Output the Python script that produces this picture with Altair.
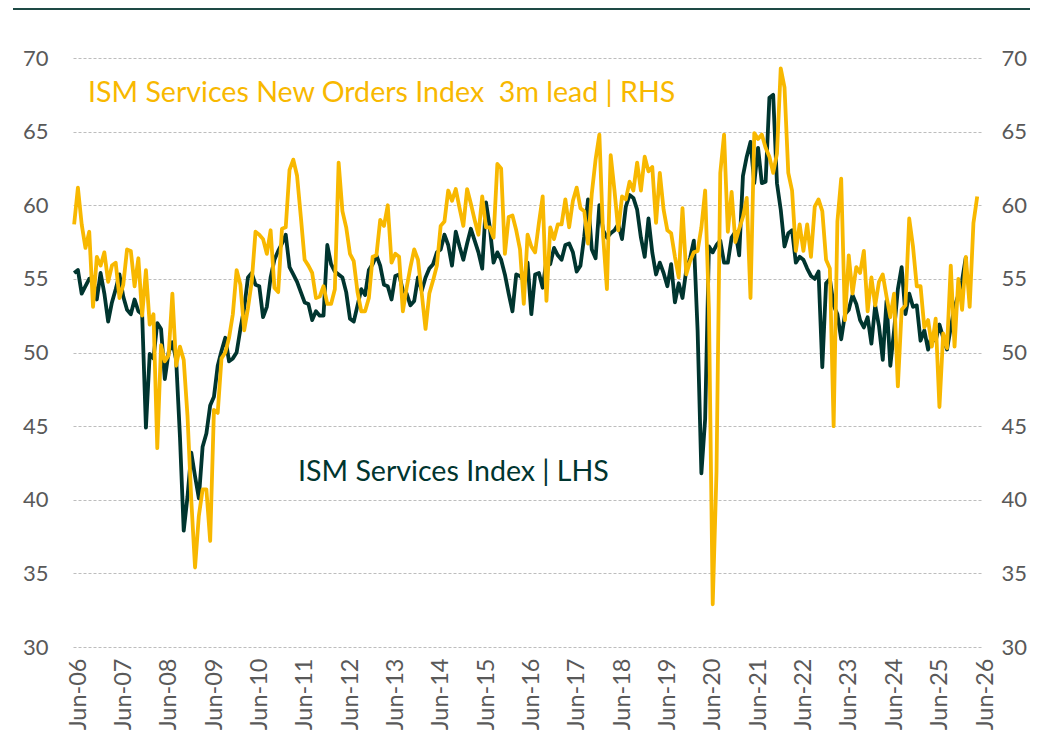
import altair as alt
import pandas as pd

# ISM Services Index (LHS), monthly from Jun-06
ism_services = [
    55.4, 55.6, 54.0, 54.5, 55.0, 55.1, 53.6, 55.4, 54.0, 52.1, 53.4, 54.3,
    55.3, 53.8, 52.9, 52.6, 53.6, 52.8, 52.6, 44.9, 49.9, 49.6, 52.0, 51.6,
    48.2, 50.0, 50.7, 49.5, 44.3, 37.9, 40.2, 43.2, 41.6, 40.1, 43.6, 44.5,
    46.4, 47.0, 49.1, 50.1, 51.0, 49.4, 49.6, 50.0, 51.6, 53.0, 55.1, 55.4,
    54.6, 54.5, 52.4, 53.1, 55.1, 56.3, 56.9, 57.4, 58.0, 55.8, 55.3, 54.8,
    54.1, 53.4, 53.3, 52.2, 52.8, 52.5, 52.5, 57.3, 56.0, 55.5, 55.3, 55.1,
    54.1, 52.3, 52.1, 53.2, 54.3, 53.9, 55.6, 56.0, 56.6, 55.9, 54.6, 54.5,
    53.6, 55.2, 55.3, 54.2, 54.0, 53.2, 53.5, 55.1, 54.2, 55.1, 55.7, 56.0,
    56.8, 57.0, 58.0, 57.3, 55.9, 58.2, 57.2, 56.3, 57.4, 58.4, 57.6, 56.8,
    55.7, 60.2, 58.5, 56.1, 56.8, 56.3, 55.3, 54.0, 52.8, 55.3, 55.2, 54.9,
    56.1, 52.6, 55.3, 55.4, 54.4, 56.3, 56.0, 57.1, 56.6, 56.3, 57.3, 57.4,
    56.8, 55.5, 55.9, 57.9, 60.4, 57.0, 56.4, 60.0, 58.3, 57.8, 58.1, 58.3,
    58.7, 57.7, 59.9, 60.7, 60.5, 59.7, 57.8, 56.5, 59.1, 56.8, 55.3, 56.1,
    55.4, 54.5, 56.0, 53.4, 54.7, 53.7, 55.6, 56.4, 57.6, 51.5, 41.8, 45.5,
    57.2, 56.8, 57.3, 57.6, 56.1, 56.1, 57.8, 58.2, 56.6, 62.0, 63.3, 64.3,
    61.5, 63.9, 61.5, 61.6, 67.3, 67.5, 61.5, 59.7, 57.2, 58.1, 58.3, 56.1,
    56.5, 56.3, 55.7, 55.2, 55.0, 55.5, 49.0, 54.7, 55.0, 53.2, 52.6, 50.9,
    52.6, 52.9, 53.9, 53.3, 52.2, 51.7, 52.4, 50.6, 53.2, 51.8, 49.5, 53.5,
    49.1, 51.5, 54.3, 55.8, 52.6, 54.0, 53.1, 53.2, 50.8, 51.5, 50.2, 51.2,
    50.8, 51.9, 51.0, 50.2, 51.7, 53.1, 53.9, 54.9, 56.5,
]

# ISM Services New Orders Index, 3m lead (RHS), monthly from Jun-06
new_orders_lead = [
    58.7, 61.2, 58.7, 57.1, 58.2, 53.1, 56.5, 55.9, 56.8, 54.8, 55.9, 56.1,
    53.7, 54.6, 57.0, 56.9, 54.5, 56.4, 52.5, 55.6, 51.9, 52.6, 43.5, 50.5,
    49.4, 49.8, 54.0, 49.1, 50.4, 49.5, 45.7, 40.0, 35.4, 38.9, 40.7, 40.7,
    37.2, 46.1, 45.9, 49.6, 50.0, 51.0, 52.6, 55.6, 54.6, 51.5, 53.0, 54.8,
    58.2, 58.0, 57.7, 56.7, 58.3, 54.4, 54.1, 58.4, 58.5, 62.4, 63.1, 62.0,
    59.2, 56.3, 55.9, 55.4, 53.7, 53.8, 54.5, 53.3, 53.3, 54.3, 62.9, 59.6,
    58.5, 56.7, 56.2, 54.1, 52.8, 52.8, 53.7, 56.5, 56.6, 59.0, 58.6, 60.0,
    56.1, 56.7, 56.5, 52.8, 54.4, 55.8, 57.0, 56.3, 54.0, 51.6, 54.0, 54.9,
    55.9, 58.6, 58.9, 61.0, 60.3, 61.1, 59.8, 58.6, 61.1, 60.1, 59.0, 58.0,
    60.6, 58.5, 58.5, 57.8, 62.8, 62.5, 56.7, 59.2, 59.3, 58.3, 57.0, 53.3,
    58.0, 57.2, 56.8, 58.8, 60.6, 53.5, 58.5, 57.7, 58.7, 58.7, 60.4, 58.5,
    60.3, 61.2, 59.8, 59.6, 57.4, 60.8, 63.1, 64.8, 57.9, 54.3, 63.4, 61.0,
    58.3, 60.6, 60.4, 61.6, 61.0, 62.9, 61.0, 63.3, 62.3, 62.6, 58.8, 62.2,
    59.7, 58.3, 58.1, 56.5, 55.1, 59.8, 55.3, 56.2, 56.8, 56.9, 58.5, 61.0,
    52.9, 32.9, 41.9, 62.2, 64.8, 58.2, 60.9, 57.5, 58.4, 59.2, 60.5, 53.7,
    64.9, 64.5, 64.8, 63.9, 63.3, 62.2, 63.5, 69.3, 68.0, 62.2, 61.0, 56.9,
    58.7, 56.9, 58.7, 56.5, 59.9, 60.4, 59.6, 56.3, 55.7, 45.0, 58.9, 61.8,
    52.2, 56.6, 54.0, 55.8, 55.4, 56.9, 52.8, 55.1, 53.2, 54.8, 55.3, 53.8,
    52.4, 54.0, 47.7, 52.9, 53.2, 59.1, 57.2, 54.5, 54.5, 51.7, 52.2, 50.4,
    52.3, 46.3, 51.3, 50.3, 55.9, 50.4, 55.0, 52.9, 56.5, 53.1, 58.8, 60.6,
]

tick_labels = ["Jun-06", "Jun-07", "Jun-08", "Jun-09", "Jun-10", "Jun-11",
               "Jun-12", "Jun-13", "Jun-14", "Jun-15", "Jun-16", "Jun-17",
               "Jun-18", "Jun-19", "Jun-20", "Jun-21", "Jun-22", "Jun-23",
               "Jun-24", "Jun-25", "Jun-26"]
y_ticks = [30, 35, 40, 45, 50, 55, 60, 65, 70]

GREEN = "#00352F"
YELLOW = "#F8B800"
GREY = "#595959"
FONT = "Lato"

df_g = pd.DataFrame({"m": list(range(len(ism_services))), "v": ism_services})
df_y = pd.DataFrame({"m": list(range(len(new_orders_lead))), "v": new_orders_lead})

label_js = "[" + ",".join("'%s'" % t for t in tick_labels) + "][round(datum.value/12)]"

x_scale = alt.Scale(domain=[-0.3, 240], nice=False, zero=False)
x_axis = alt.Axis(values=list(range(0, 241, 12)), labelExpr=label_js, labelAngle=-90,
                  labelAlign="right", labelBaseline="middle",
                  labelFontSize=23.5, labelColor=GREY, labelFont=FONT,
                  labelPadding=11, labelOffset=4, labelOverlap=False,
                  grid=False, ticks=False, domain=False, title=None)

y_scale = alt.Scale(domain=[30, 70], nice=False, zero=False)

left = alt.Chart(df_g).mark_line(color=GREEN, strokeWidth=3.8, strokeJoin="round").encode(
    x=alt.X("m:Q", scale=x_scale, axis=x_axis),
    y=alt.Y("v:Q", scale=y_scale,
            axis=alt.Axis(orient="left", values=y_ticks, labelFontSize=22, labelColor=GREY,
                          labelFont=FONT, labelPadding=25, grid=True, gridColor="#BDBDBD",
                          gridDash=[3, 2], gridWidth=1, ticks=False, domain=False, title=None)),
)

right = alt.Chart(df_y).mark_line(color=YELLOW, strokeWidth=3.8, strokeJoin="round").encode(
    x=alt.X("m:Q", scale=x_scale, axis=x_axis),
    y=alt.Y("v:Q", scale=y_scale,
            axis=alt.Axis(orient="right", values=y_ticks, labelFontSize=22, labelColor=GREY,
                          labelFont=FONT, labelPadding=20, grid=False,
                          ticks=False, domain=False, title=None)),
)

title_txt = alt.Chart(pd.DataFrame({"t": ["ISM Services New Orders Index\u00a0 3m lead | RHS"]})).mark_text(
    align="left", baseline="alphabetic", font=FONT, fontSize=28.6, color=YELLOW
).encode(text="t:N", x=alt.value(15), y=alt.value(44))

lhs_txt = alt.Chart(pd.DataFrame({"t": ["ISM Services Index | LHS"]})).mark_text(
    align="left", baseline="alphabetic", font=FONT, fontSize=28.6, color=GREEN
).encode(text="t:N", x=alt.value(225), y=alt.value(423))

top_line = alt.Chart(pd.DataFrame({"a": [0]})).mark_rule(color="#1E4A45", strokeWidth=2).encode(
    x=alt.value(-60), x2=alt.value(957), y=alt.value(-49)
)

chart = alt.layer(left, right, title_txt, lhs_txt, top_line).resolve_scale(
    y="independent"
).properties(
    width=908, height=589,
    autosize=alt.AutoSizeParams(type="none"),
    padding={"left": 65, "top": 50, "right": 49, "bottom": 92},
    background="white",
).configure_view(stroke=None)

chart.save("out.html", embed_options={"renderer": "svg", "actions": False})
